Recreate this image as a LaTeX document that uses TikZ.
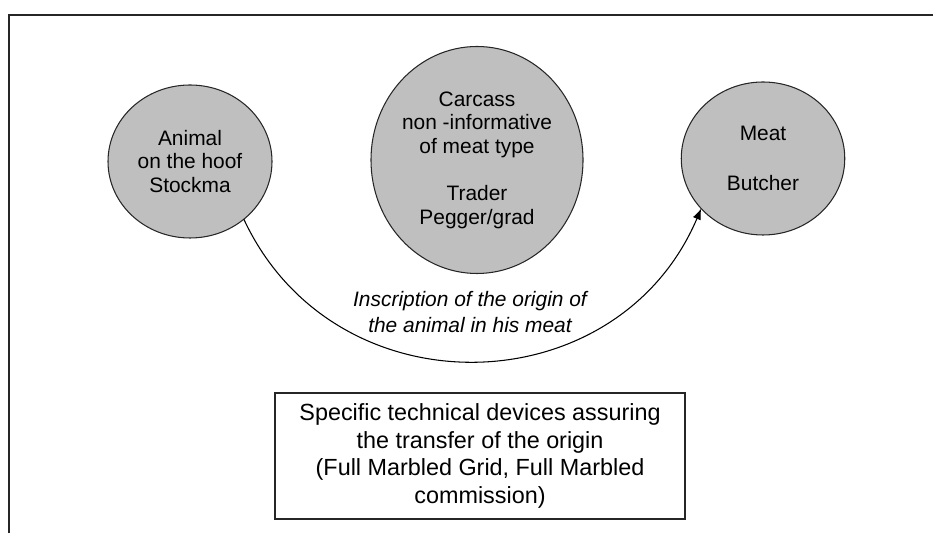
\documentclass[tikz,border=0pt]{standalone}
\usepackage{fontspec}
\setmainfont{Liberation Sans}
\usetikzlibrary{arrows.meta,positioning,shapes.geometric}

\begin{document}
\begin{tikzpicture}[line width=0.6pt,
  ar/.style={-{Latex[length=2.2mm,width=1.7mm]}},
  blob/.style={ellipse,draw=black!85,fill=black!25,inner sep=0pt,outer sep=0pt,
    align=center,font=\fontsize{11.9}{13.4}\selectfont},
  lab/.style={align=center,font=\fontsize{11.9}{14.7}\selectfont\itshape},
  bx/.style={draw=black!85,minimum width=8.2cm,minimum height=2.52cm,align=center,
    font=\fontsize{13.3}{15.7}\selectfont}]
\useasboundingbox (0,0) rectangle (18.66,10.66);
% page frame
\draw[black!85] (18.66,10.36) -- (0.18,10.36) -- (0.18,0);

\node[blob,minimum width=3.28cm,minimum height=3.06cm] (stock) at (3.80,7.43)
  {Animal\\on the hoof\\Stockma};
\node[blob,minimum width=3.56cm,minimum height=4.54cm] (carcass) at (9.54,7.46)
  {Carcass\\non -informative\\of meat type\\[13.6pt]Trader\\Pegger/grad};
\node[blob,minimum width=3.27cm,minimum height=3.06cm] (butcher) at (15.26,7.49)
  {Meat\\[15pt]Butcher};

\node[lab] (insc) at (9.40,4.42) {Inscription of the origin of\\the animal in his meat};
\node[bx] (devices) at (9.60,1.54)
  {Specific technical devices assuring\\the transfer of the origin\\(Full Marbled Grid, Full Marbled\\commission)};

\draw[ar] (stock.-47) to[out=-65,in=-113,looseness=1.2] (butcher.-141);
\end{tikzpicture}
\end{document}
